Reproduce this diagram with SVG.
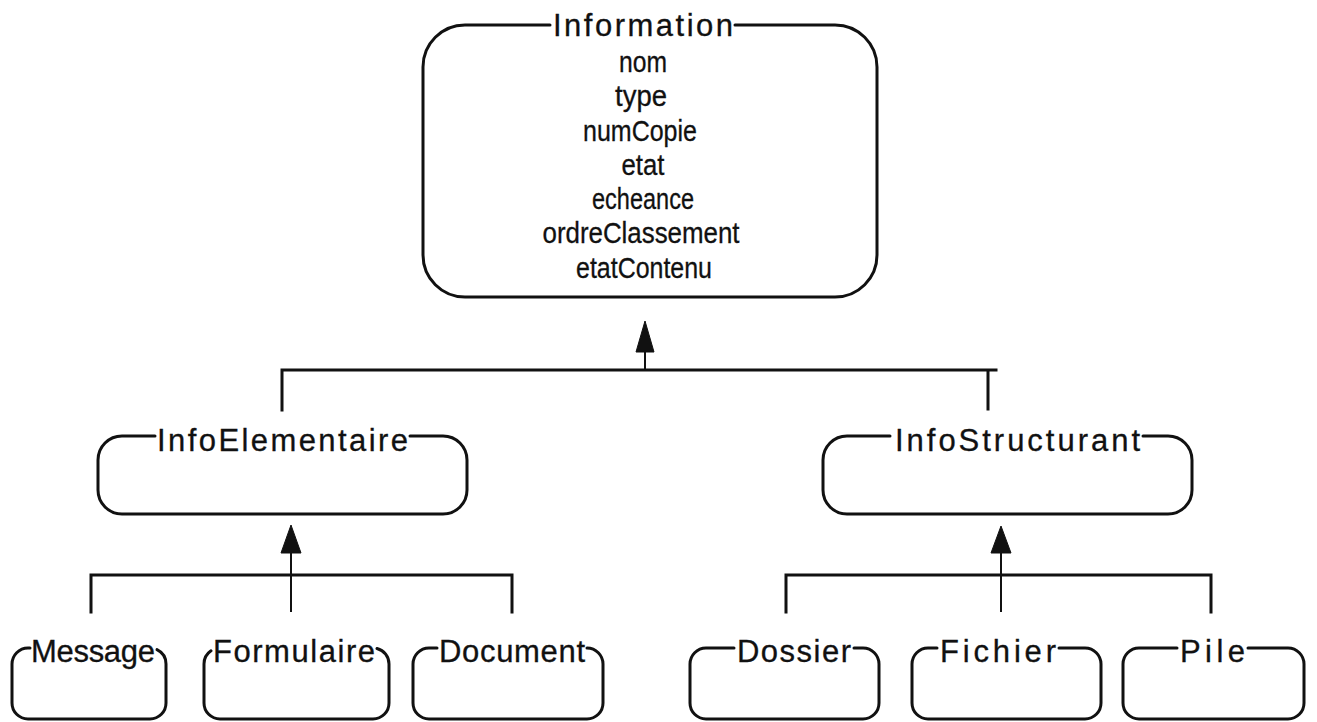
<svg xmlns="http://www.w3.org/2000/svg" width="1317" height="722" viewBox="0 0 1317 722">
<style>
.box{fill:none;stroke:#111;stroke-width:3;stroke-linecap:round;stroke-linejoin:round}
.con{fill:none;stroke:#111;stroke-width:3;stroke-linecap:square}
.stem{fill:none;stroke:#111;stroke-width:2}
.head{fill:#111;stroke:#111;stroke-width:1;stroke-linejoin:round}
.ttl{font-family:"Liberation Sans",Arial,Helvetica,sans-serif;font-size:31px;fill:#111;stroke:#111;stroke-width:0.3}
.attr{font-family:"Liberation Sans",Arial,Helvetica,sans-serif;font-size:29px;fill:#111;stroke:#111;stroke-width:0.3;text-anchor:middle}
</style>
<rect width="1317" height="722" fill="#ffffff"/>
<g id="connectors">
  <path class="con" d="M282 370 H996 M282 370 V410 M988 370 V409"/>
  <path class="stem" d="M645 370 V350"/>
  <path class="head" d="M645 321 L654 352 L636 352 Z"/>
  <path class="con" d="M91 575 H512 M91 575 V612 M512 575 V612"/>
  <path class="stem" d="M291 612 V551"/>
  <path class="head" d="M291 525 L301 553 L281 553 Z"/>
  <path class="con" d="M786 575 H1211 M786 575 V612 M1211 575 V612"/>
  <path class="stem" d="M1001 612 V551"/>
  <path class="head" d="M1001 526 L1011 553 L991 553 Z"/>
</g>
<g id="Information">
  <path class="box" d="M735 25 H835 A42 42 0 0 1 877 67 V255 A42 42 0 0 1 835 297 H465 A42 42 0 0 1 423 255 V67 A42 42 0 0 1 465 25 H550"/>
  <text class="ttl" x="553" y="36" font-size="29" textLength="180" lengthAdjust="spacing">Information</text>
  <text class="attr" x="643" y="72" textLength="48" lengthAdjust="spacingAndGlyphs">nom</text>
  <text class="attr" x="641" y="106" textLength="52" lengthAdjust="spacingAndGlyphs">type</text>
  <text class="attr" x="640" y="141" textLength="114" lengthAdjust="spacingAndGlyphs">numCopie</text>
  <text class="attr" x="643" y="175" textLength="43" lengthAdjust="spacingAndGlyphs">etat</text>
  <text class="attr" x="643" y="209" textLength="102" lengthAdjust="spacingAndGlyphs">echeance</text>
  <text class="attr" x="641" y="243" textLength="197" lengthAdjust="spacingAndGlyphs">ordreClassement</text>
  <text class="attr" x="644" y="278" textLength="136" lengthAdjust="spacingAndGlyphs">etatContenu</text>
</g>
<g id="InfoElementaire">
  <path class="box" d="M410 436 H443 A24 24 0 0 1 467 460 V490 A24 24 0 0 1 443 514 H122 A24 24 0 0 1 98 490 V460 A24 24 0 0 1 122 436 H155"/>
  <text class="ttl" x="157" y="451" textLength="251" lengthAdjust="spacing">InfoElementaire</text>
</g>
<g id="InfoStructurant">
  <path class="box" d="M1143 436 H1168 A24 24 0 0 1 1192 460 V490 A24 24 0 0 1 1168 514 H847 A24 24 0 0 1 823 490 V460 A24 24 0 0 1 847 436 H890"/>
  <text class="ttl" x="895" y="451" textLength="245" lengthAdjust="spacing">InfoStructurant</text>
</g>
<g id="Message">
  <path class="box" d="M157 649.6 A16 16 0 0 1 166 664 V703 A16 16 0 0 1 150 719 H28 A16 16 0 0 1 12 703 V664 A16 16 0 0 1 28 648 H30"/>
  <text class="ttl" x="31" y="662" textLength="124" lengthAdjust="spacing">Message</text>
</g>
<g id="Formulaire">
  <path class="box" d="M377 648.5 A16 16 0 0 1 389 664 V703 A16 16 0 0 1 373 719 H220 A16 16 0 0 1 204 703 V664 A16 16 0 0 1 211 650.8"/>
  <text class="ttl" x="213" y="662" textLength="162" lengthAdjust="spacing">Formulaire</text>
</g>
<g id="Document">
  <path class="box" d="M587 648 A16 16 0 0 1 603 664 V703 A16 16 0 0 1 587 719 H429 A16 16 0 0 1 413 703 V664 A16 16 0 0 1 429 648 H437"/>
  <text class="ttl" x="439" y="662" textLength="146" lengthAdjust="spacing">Document</text>
</g>
<g id="Dossier">
  <path class="box" d="M854 648 H863 A16 16 0 0 1 879 664 V703 A16 16 0 0 1 863 719 H706 A16 16 0 0 1 690 703 V664 A16 16 0 0 1 706 648 H734"/>
  <text class="ttl" x="737" y="662" textLength="114" lengthAdjust="spacing">Dossier</text>
</g>
<g id="Fichier">
  <path class="box" d="M1059 648 H1085 A16 16 0 0 1 1101 664 V703 A16 16 0 0 1 1085 719 H928 A16 16 0 0 1 912 703 V664 A16 16 0 0 1 928 648 H937"/>
  <text class="ttl" x="940" y="662" textLength="116" lengthAdjust="spacing">Fichier</text>
</g>
<g id="Pile">
  <path class="box" d="M1248 648 H1288 A16 16 0 0 1 1304 664 V703 A16 16 0 0 1 1288 719 H1139 A16 16 0 0 1 1123 703 V664 A16 16 0 0 1 1139 648 H1177"/>
  <text class="ttl" x="1180" y="662" textLength="65" lengthAdjust="spacing">Pile</text>
</g>
</svg>
